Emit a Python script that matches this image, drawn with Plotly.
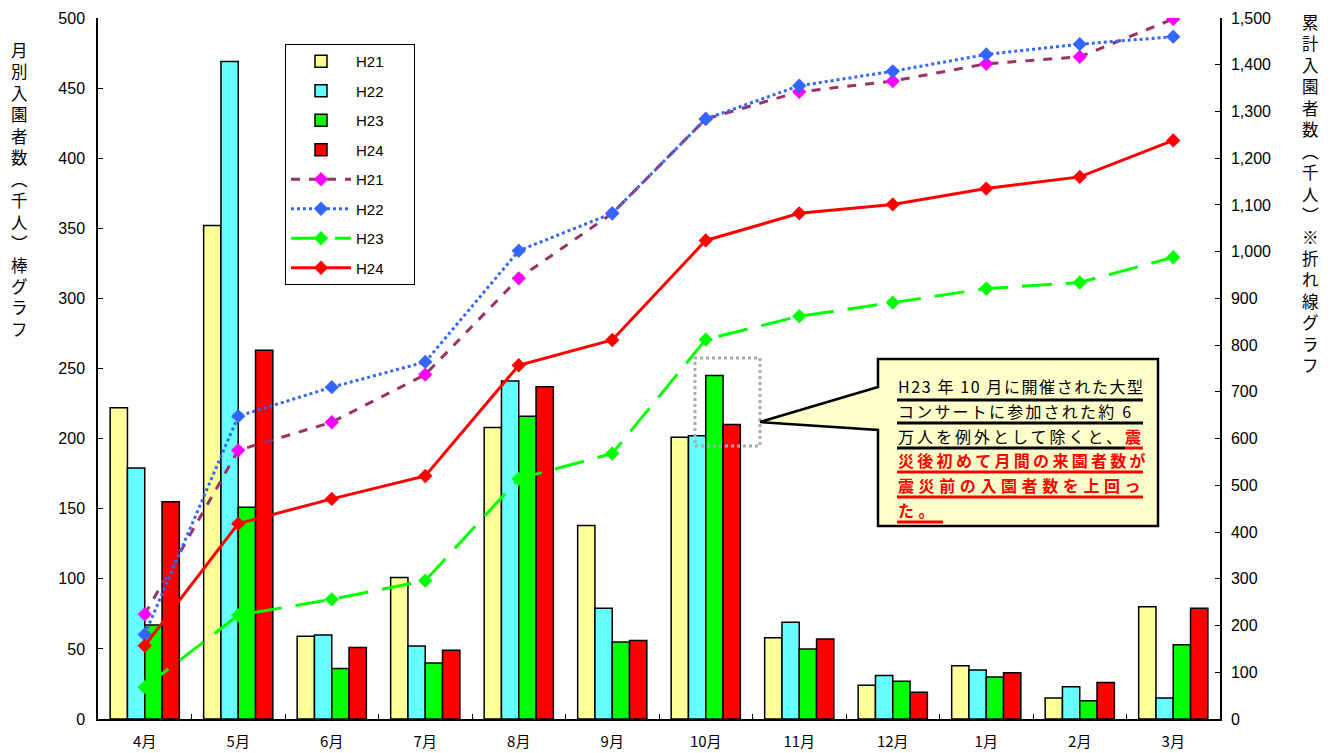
import plotly.graph_objects as go

months = ["4月", "5月", "6月", "7月", "8月", "9月", "10月", "11月", "12月", "1月", "2月", "3月"]

# monthly visitors (thousand) - bars
bar_h21 = [222, 352, 59, 101, 208, 138, 201, 58, 24, 38, 15, 80]
bar_h22 = [179, 469, 60, 52, 241, 79, 202, 69, 31, 35, 23, 15]
bar_h23 = [67, 151, 36, 40, 216, 55, 245, 50, 27, 30, 13, 53]
bar_h24 = [155, 263, 51, 49, 237, 56, 210, 57, 19, 33, 26, 79]

# cumulative visitors (thousand) - lines
cum_h21 = [224, 575, 635, 737, 943, 1082, 1284, 1342, 1365, 1402, 1417, 1498]
cum_h22 = [181, 648, 710, 764, 1002, 1082, 1284, 1355, 1386, 1422, 1444, 1460]
cum_h23 = [68, 222, 256, 296, 514, 568, 812, 862, 891, 921, 934, 988]
cum_h24 = [157, 418, 471, 520, 757, 811, 1024, 1082, 1101, 1135, 1160, 1238]

FONT = "Liberation Sans, Arial, Noto Sans CJK JP"
JP = "Noto Sans CJK JP"

OFF = 8  # page body margin
FW, FH = 1334 - OFF, 753 - OFF
# plot area in image pixels
L, R, T, B = 98, 1220, 18, 719
W, H = R - L, B - T


def px(x):
    return (x - L) / W


def py(y):
    return (B - y) / H


fig = go.Figure()

bar_specs = [("H21", bar_h21, "#FFFF99"), ("H22", bar_h22, "#66FFFF"),
             ("H23", bar_h23, "#00FF00"), ("H24", bar_h24, "#FF0000")]
for i, (name, vals, col) in enumerate(bar_specs):
    fig.add_trace(go.Bar(x=months, y=vals, name=name + "\u00a0" * 6, legendgroup="b%d" % i,
                         marker=dict(color=col, line=dict(color="black", width=1.5))))

line_specs = [
    ("H21", cum_h21, "#993366", "#FF00FF", "dash"),
    ("H22", cum_h22, "#3366FF", "#3366FF", "dot"),
    ("H23", cum_h23, "#00FF00", "#00FF00", "30px,14px"),
    ("H24", cum_h24, "#FF0000", "#FF0000", "solid"),
]
for i, (name, vals, lc, mc, dash) in enumerate(line_specs):
    fig.add_trace(go.Scatter(x=months, y=vals, name=name + "\u00a0" * 6, yaxis="y2",
                             mode="lines+markers", legendgroup="l%d" % i,
                             line=dict(color=lc, width=3, dash=dash),
                             marker=dict(symbol="diamond", size=11, color=mc)))

shapes = []
# gray dotted rectangle around October
shapes.append(dict(type="rect", xref="paper", yref="paper",
                   x0=px(695), x1=px(760), y0=py(446), y1=py(358),
                   line=dict(color="#AAAAAA", width=3, dash="dot"), fillcolor="rgba(0,0,0,0)"))
# callout
pts = [(878, 359), (1158, 359), (1158, 526), (878, 526), (878, 430), (760, 422), (878, 387)]
path = "M " + " L ".join("%f,%f" % (px(a), py(b)) for a, b in pts) + " Z"
shapes.append(dict(type="path", xref="paper", yref="paper", path=path,
                   fillcolor="#FFFFCC", line=dict(color="black", width=2.5)))

# underlines
ul = [
    (897, 1143, 400, "black"),
    (897, 1143, 423, "black"),
    (897, 1125, 448, "black"),
    (1125, 1143, 448, "red"),
    (897, 1143, 472, "red"),
    (897, 1143, 497, "red"),
    (897, 943, 522, "red"),
]
for x0, x1, y, c in ul:
    shapes.append(dict(type="line", xref="paper", yref="paper",
                       x0=px(x0), x1=px(x1), y0=py(y), y1=py(y),
                       line=dict(color=c, width=3)))

annotations = []
lines_txt = [
    ("H23 年 10 月に開催された大型", 386, 1.6),
    ("コンサートに参加された約 6", 411, 2.2),
    ("万人を例外として除くと、<b style='color:red'>震</b>", 436, 3.0),
    ("<b style='color:red'>災後初めて月間の来園者数が</b>", 460, 3.3),
    ("<b style='color:red'>震災前の入園者数を上回っ</b>", 485, 4.6),
    ("<b style='color:red'>た。</b>", 510, 4.6),
]
for txt, y, ls in lines_txt:
    annotations.append(dict(text="<span style='letter-spacing:%.1fpx'>%s</span>" % (ls, txt),
                            xref="paper", yref="paper", x=px(896), y=py(y),
                            xanchor="left", yanchor="middle", showarrow=False,
                            font=dict(family=JP, size=16, color="black")))

left_title = "<br>".join(list("月別入園者数︵千人︶棒グラフ"))
right_title = "<br>".join(list("累計入園者数︵千人︶※折れ線グラフ"))
annotations.append(dict(text=left_title, xref="paper", yref="paper", x=px(19), y=py(36),
                        xanchor="center", yanchor="top", showarrow=False,
                        font=dict(family=JP, size=16.5, color="black")))
annotations.append(dict(text=right_title, xref="paper", yref="paper", x=px(1310), y=py(8),
                        xanchor="center", yanchor="top", showarrow=False,
                        font=dict(family=JP, size=16.5, color="black")))
fig.update_layout(
    width=FW, height=FH,
    margin=dict(l=L - OFF, r=FW - (R - OFF), t=T - OFF, b=FH - (B - OFF), autoexpand=False),
    paper_bgcolor="white", plot_bgcolor="white",
    font=dict(family=FONT, size=16, color="black"),
    barmode="group", bargap=0.26, bargroupgap=0,
    showlegend=True,
    legend=dict(x=px(285), y=py(44), xanchor="left", yanchor="top",
                bgcolor="white", bordercolor="black", borderwidth=1,
                font=dict(family=FONT, size=15), tracegroupgap=7,
                itemwidth=60, traceorder="grouped"),
    xaxis=dict(range=[-0.5, 11.5], showline=True, linecolor="black", linewidth=1.5,
               ticks="inside", tickson="boundaries", ticklen=5, tickcolor="black",
               showgrid=False, tickfont=dict(family=JP, size=15), ticklabelstandoff=8),
    yaxis=dict(range=[0, 500], dtick=50, showline=True, linecolor="black", linewidth=1.5,
               ticks="inside", ticklen=5, tickcolor="black", showgrid=False, zeroline=False,
               tickfont=dict(size=16), ticklabelstandoff=8),
    yaxis2=dict(range=[0, 1500], dtick=100, overlaying="y", side="right", showline=True,
                linecolor="black", linewidth=1.5, ticks="inside", ticklen=5, tickcolor="black",
                showgrid=False, zeroline=False, tickformat=",d", tickfont=dict(size=16),
                ticklabelstandoff=6),
    shapes=shapes, annotations=annotations,
)

fig.write_html("out.html")
